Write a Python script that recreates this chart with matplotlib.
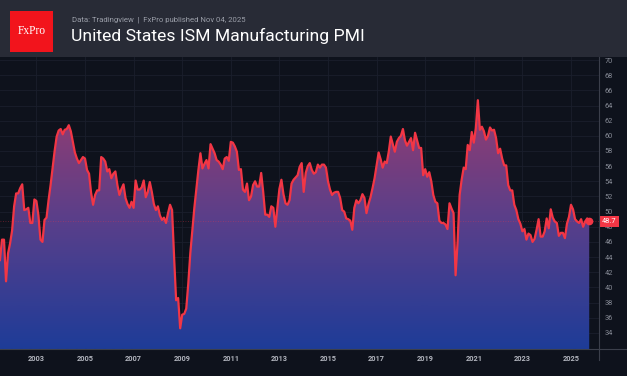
import numpy as np
import matplotlib
matplotlib.use("Agg")
import matplotlib.pyplot as plt
from matplotlib.colors import LinearSegmentedColormap
from matplotlib.patches import Rectangle, PathPatch
from matplotlib.lines import Line2D
from matplotlib.transforms import blended_transform_factory

# ---------------- data (ISM Manufacturing PMI, monthly) ----------------
start_year, start_month = 2001, 7
pmi_2001 = [43.6, 46.3, 46.3, 40.8, 44.5, 45.8]  # Jul-Dec
pmi_2002 = [47.5, 50.7, 52.4, 52.4, 53.1, 53.6, 50.2, 50.3, 50.5, 48.5, 48.5, 51.6]
pmi_2003 = [51.4, 49.5, 46.3, 46.0, 48.9, 49.2, 51.5, 53.5, 55.8, 58.0, 59.9, 60.7]
pmi_2004 = [60.9, 60.2, 60.8, 60.9, 61.4, 60.6, 59.2, 57.8, 57.0, 56.4, 56.8, 57.2]
pmi_2005 = [57.0, 55.5, 55.0, 52.5, 50.9, 52.2, 52.8, 52.8, 57.2, 57.0, 56.6, 55.3]
pmi_2006 = [55.6, 54.4, 55.0, 55.3, 53.5, 52.2, 53.0, 53.6, 51.8, 51.0, 50.5, 51.3]
pmi_2007 = [50.5, 54.1, 52.9, 52.9, 53.2, 54.1, 51.9, 52.6, 53.9, 52.6, 51.0, 50.2]
pmi_2008 = [50.7, 49.5, 48.9, 49.2, 48.5, 49.8, 50.9, 50.2, 44.0, 38.3, 38.6, 34.6]
pmi_2009 = [36.4, 36.5, 37.2, 40.5, 44.5, 47.5, 50.5, 53.0, 55.5, 57.7, 55.7, 56.3]
pmi_2010 = [56.8, 55.7, 58.9, 58.3, 57.7, 56.8, 56.6, 56.2, 55.6, 57.0, 57.2, 56.7]
pmi_2011 = [59.2, 59.1, 58.6, 57.9, 55.5, 55.6, 52.9, 52.6, 53.7, 51.5, 52.0, 53.5]
pmi_2012 = [54.0, 53.3, 53.3, 55.1, 52.6, 49.6, 49.6, 49.3, 50.7, 50.5, 48.0, 50.5]
pmi_2013 = [53.0, 54.2, 52.3, 51.1, 50.9, 51.5, 53.7, 54.2, 54.5, 54.8, 55.9, 56.4]
pmi_2014 = [52.6, 55.1, 56.0, 56.4, 55.5, 55.0, 55.2, 56.2, 55.8, 56.2, 56.2, 55.8]
pmi_2015 = [54.0, 52.9, 52.2, 52.5, 52.6, 52.6, 51.8, 50.2, 50.0, 49.1, 49.0, 48.8]
pmi_2016 = [47.6, 50.5, 51.5, 51.1, 51.5, 52.3, 51.8, 49.8, 51.0, 51.9, 53.1, 54.4]
pmi_2017 = [56.1, 57.8, 56.9, 55.8, 56.6, 56.4, 57.9, 59.9, 58.9, 57.9, 59.2, 59.7]
pmi_2018 = [60.0, 60.9, 59.4, 58.7, 59.2, 59.7, 58.1, 60.4, 59.4, 58.4, 58.4, 54.8]
pmi_2019 = [55.6, 54.6, 55.2, 54.0, 52.2, 51.3, 51.1, 48.8, 48.5, 48.5, 48.3, 47.7]
pmi_2020 = [51.1, 50.4, 49.8, 41.6, 46.0, 52.2, 54.2, 55.8, 55.6, 58.8, 58.1, 60.5]
pmi_2021 = [59.1, 61.0, 64.7, 60.8, 61.2, 60.6, 59.5, 60.0, 61.1, 60.7, 60.8, 59.7]
pmi_2022 = [57.7, 58.3, 57.0, 56.1, 56.1, 53.5, 52.8, 52.8, 50.9, 50.2, 49.0, 48.4]
pmi_2023 = [47.4, 47.7, 46.3, 47.1, 46.9, 46.0, 46.4, 47.6, 49.0, 46.7, 46.7, 47.4]
pmi_2024 = [49.1, 47.8, 50.3, 49.2, 48.7, 48.5, 46.8, 47.2, 47.2, 46.5, 48.4, 49.3]
pmi_2025 = [50.9, 50.3, 49.0, 48.7, 48.5, 49.0, 48.0, 48.7, 49.1, 48.7]  # Jan-Oct

y_ticks = list(range(34, 71, 2))
x_tick_years = list(range(2003, 2026, 2))

title = "United States ISM Manufacturing PMI"
subtitle = "Data: Tradingview  |  FxPro published Nov 04, 2025"

values = np.array(pmi_2001 + pmi_2002 + pmi_2003 + pmi_2004 + pmi_2005 + pmi_2006 +
                  pmi_2007 + pmi_2008 + pmi_2009 + pmi_2010 + pmi_2011 + pmi_2012 +
                  pmi_2013 + pmi_2014 + pmi_2015 + pmi_2016 + pmi_2017 + pmi_2018 +
                  pmi_2019 + pmi_2020 + pmi_2021 + pmi_2022 + pmi_2023 + pmi_2024 +
                  pmi_2025)
t = start_year + (start_month - 1) / 12 + np.arange(len(values)) / 12.0

# ---------------- style ----------------
W, H = 627, 376
BG = "#0e121c"
HEADER = "#282b36"
RED = "#f23645"
LINEC = "#3b3f4b"

def fx(px):
    return px / W

def fy(py):
    return 1 - py / H

fig = plt.figure(figsize=(W / 100, H / 100), dpi=100)
fig.patch.set_facecolor(BG)

# header band
fig.patches.append(Rectangle((0, fy(57)), 1, 57 / H, transform=fig.transFigure,
                             facecolor=HEADER, edgecolor="none", zorder=0))
# logo
fig.patches.append(Rectangle((fx(10), fy(52)), 43 / W, 41 / H, transform=fig.transFigure,
                             facecolor="#f2141c", edgecolor="none", zorder=1))
fig.text(fx(31.5), fy(31.5), "FxPro", color="white", fontsize=8.3,
         family="Liberation Serif", ha="center", va="center", zorder=2)
fig.text(fx(72), fy(20), subtitle, color="#9a9ea8", fontsize=5.6,
         family="Roboto", ha="left", va="center")
fig.text(fx(71), fy(36), title, color="white", fontsize=12.6,
         family="Roboto", ha="left", va="center")

# main axes
ax = fig.add_axes([0, fy(349), fx(599), (349 - 57) / H])
ax.set_facecolor(BG)
x0 = 2003 + (0 - 36.4) / 24.3
x1 = 2003 + (599 - 36.4) / 24.3
ylo, yhi = 31.87, 70.4

poly = ax.fill_between(t, values, ylo, facecolor="none", edgecolor="none")
clip = PathPatch(poly.get_paths()[0], transform=ax.transData, facecolor="none",
                 edgecolor="none")
ax.add_patch(clip)
cmap = LinearSegmentedColormap.from_list("g", ["#1e3c98", "#5a3f8a", "#9a3c6e"])
grad = np.linspace(0, 1, 256).reshape(-1, 1)
im = ax.imshow(grad, extent=[t[0], t[-1], ylo, 66], origin="lower",
               aspect="auto", cmap=cmap, zorder=1, interpolation="bilinear")
im.set_clip_path(clip)

ax.axhline(values[-1], color=RED, lw=0.6, ls=(0, (1, 2)), alpha=0.45, zorder=2)
ax.plot(t, values, color=RED, lw=1.6, zorder=3, solid_joinstyle="round")
ax.plot(t[-1], values[-1], "o", ms=4.5, color=RED, zorder=4)

ax.set_xlim(x0, x1)
ax.set_ylim(ylo, yhi)

ax.yaxis.tick_right()
ax.set_yticks(y_ticks)
ax.set_yticklabels([str(v) for v in y_ticks])
ax.set_xticks(x_tick_years)
ax.set_xticklabels([str(v) for v in x_tick_years])
ax.tick_params(axis="y", length=0, pad=4, labelsize=5.3, labelcolor="#868a95")
ax.tick_params(axis="x", length=0, pad=4.5, labelsize=5.3, labelcolor="#b2b5be")
for lab in ax.get_xticklabels():
    lab.set_fontweight("bold")
for lab in ax.get_yticklabels() + ax.get_xticklabels():
    lab.set_family("Roboto")
ax.grid(True, color="#1a1f2c", lw=0.6)
ax.set_axisbelow(True)
for s in ax.spines.values():
    s.set_visible(False)

# last value tag
tr = blended_transform_factory(ax.transAxes, ax.transData)
ax.text(1.0 + 3 / 599, values[-1], f"{values[-1]:.1f}", transform=tr, ha="left",
        va="center", fontsize=5.3, color="white", family="Roboto", clip_on=False,
        bbox=dict(boxstyle="square,pad=0.3", fc=RED, ec="none"), zorder=6)

# axis frame lines
fig.lines.append(Line2D([0, 1], [fy(349), fy(349)], transform=fig.transFigure,
                        color=LINEC, lw=0.8))
fig.lines.append(Line2D([fx(599), fx(599)], [fy(57), fy(360)], transform=fig.transFigure,
                        color=LINEC, lw=0.8))

fig.savefig("out.png", dpi=100, facecolor=BG)
